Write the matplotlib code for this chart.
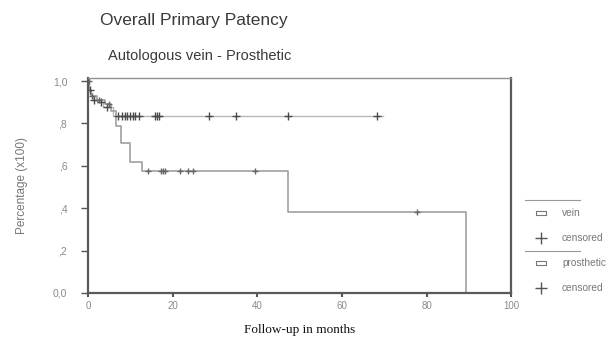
import numpy as np
import matplotlib
matplotlib.use("Agg")
import matplotlib.pyplot as plt
from matplotlib.lines import Line2D

# Kaplan-Meier steps
vein_t = [0, 0.3, 0.7, 1.2, 2, 3.5, 6, 69.7]
vein_s = [1.0, 0.96, 0.93, 0.91, 0.90, 0.88, 0.835, 0.835]
vein_cens = [0.4, 1.5, 3, 4.5, 7, 8, 8.7, 9.3, 10, 10.6, 11.2, 12, 15.8, 16.3, 16.8,
             28.5, 35, 47.3, 68.3]

pros_t = [0, 0.3, 0.8, 2, 4, 5.5, 6.5, 7.8, 9.9, 12.7, 47.3, 89.3]
pros_s = [1.0, 0.96, 0.93, 0.91, 0.89, 0.86, 0.79, 0.71, 0.62, 0.576, 0.38, 0.0]
pros_cens = [0.2, 1, 2.5, 5, 14.2, 17.3, 17.7, 18.1, 21.7, 23.6, 24.8, 39.5, 77.7]

yticks = [0, 0.2, 0.4, 0.6, 0.8, 1.0]
ytick_labels = ["0,0", ",2", ",4", ",6", ",8", "1,0"]
xticks = [0, 20, 40, 60, 80, 100]

grey = "#8a8a8a"
mark_col = "#4a4a4a"


def surv_at(times, surv, t):
    i = np.searchsorted(times, t, side="right") - 1
    return surv[max(i, 0)]


plt.rcParams["font.family"] = ["Liberation Sans", "DejaVu Sans"]

fig = plt.figure(figsize=(6.16, 3.39), dpi=100)
ax = fig.add_axes([0.143, 0.136, 0.687, 0.634])

ax.step(vein_t, vein_s, where="post", color="#b8b8b8", lw=1.0)
ax.step(pros_t, pros_s, where="post", color="#a0a0a0", lw=1.2)

ax.plot(vein_cens, [surv_at(vein_t, vein_s, t) for t in vein_cens], ls="none",
        marker="+", ms=6, mew=1.0, color=mark_col)
ax.plot(pros_cens, [surv_at(pros_t, pros_s, t) for t in pros_cens], ls="none",
        marker="+", ms=5, mew=1.0, color="#666666")

ax.set_xlim(0, 100)
ax.set_ylim(0, 1.015)
ax.set_xticks(xticks)
ax.set_yticks(yticks)
ax.set_yticklabels(ytick_labels)
ax.tick_params(axis="y", length=5, width=1, color="#555555", labelsize=7.5,
               labelcolor=grey, pad=10)
ax.tick_params(axis="x", length=3, width=1.5, color="#555555", labelsize=7,
               labelcolor=grey, pad=3)

for side in ["left", "right", "bottom"]:
    ax.spines[side].set_color("#5a5a5a")
    ax.spines[side].set_linewidth(1.6)
ax.spines["top"].set_color("#909090")
ax.spines["top"].set_linewidth(1.0)

ax.set_ylabel("Percentage (x100)", fontsize=8.5, color="#777777", labelpad=18)
ax.set_xlabel("Follow-up in months", fontsize=9.5, family="Liberation Serif",
              color="#111111", labelpad=9)

fig.text(0.163, 0.94, "Overall Primary Patency", fontsize=12.5, color="#3a3a3a",
         va="center")
fig.text(0.176, 0.835, "Autologous vein - Prosthetic", fontsize=10.5, color="#3a3a3a",
         va="center")

# legend drawn by hand, outside the plot on the right
def fy(py):
    return 1 - py / 339.0


def fx(px):
    return px / 616.0


rect = [(-1, -0.5), (1, -0.5), (1, 0.5), (-1, 0.5), (-1, -0.5)]
for py in [200, 251]:
    fig.add_artist(Line2D([fx(525), fx(580)], [fy(py), fy(py)], color="#999999", lw=0.8))
leg_rows = [(213, "s", "vein"), (238, "+", "censored"), (263, "s", "prosthetic"),
            (288, "+", "censored")]
for py, mk, label in leg_rows:
    if mk == "s":
        fig.add_artist(Line2D([fx(541)], [fy(py)], marker=rect, ms=7, mfc="white",
                              mec="#777777", mew=0.8, ls="none"))
    else:
        fig.add_artist(Line2D([fx(541)], [fy(py)], marker="+", ms=8, mew=1.0,
                              color="#555555", ls="none"))
    fig.text(fx(562), fy(py), label, fontsize=7.3, color="#777777", va="center")

fig.savefig("out.png", dpi=100)
